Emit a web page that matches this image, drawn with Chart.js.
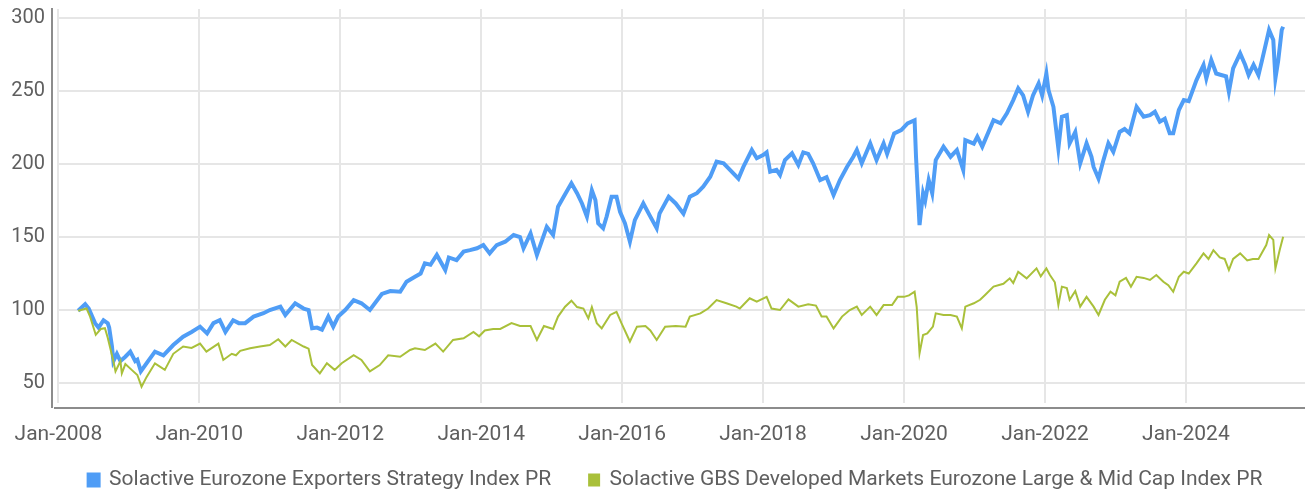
<!DOCTYPE html>
<html>
<head>
<meta charset="utf-8">
<script src="https://cdn.jsdelivr.net/npm/chart.js@4.4.1/dist/chart.umd.min.js"></script>
<style>
  html, body { margin: 0; padding: 0; background: #fff; }
  #wrap { width: 1306px; height: 493px; position: relative; }
</style>
</head>
<body>
<div id="wrap"><canvas id="perfChart"></canvas></div>
<script>
// dates as decimal years
const exportersDates = [
  2008.28, 2008.38, 2008.43, 2008.52, 2008.57, 2008.64, 2008.70, 2008.72, 2008.76, 2008.78,
  2008.83, 2008.88, 2008.95, 2009.02, 2009.09, 2009.12, 2009.17, 2009.25, 2009.37, 2009.49,
  2009.63, 2009.77, 2009.89, 2010.01, 2010.11, 2010.20, 2010.29, 2010.37, 2010.48, 2010.56,
  2010.65, 2010.77, 2010.91, 2011.00, 2011.15, 2011.22, 2011.36, 2011.48, 2011.55, 2011.60,
  2011.67, 2011.74, 2011.83, 2011.90, 2011.97, 2012.07, 2012.19, 2012.30, 2012.42, 2012.59,
  2012.71, 2012.85, 2012.94, 2013.06, 2013.14, 2013.20, 2013.28, 2013.37, 2013.49, 2013.54,
  2013.65, 2013.75, 2013.84, 2013.94, 2014.03, 2014.12, 2014.22, 2014.34, 2014.46, 2014.55,
  2014.60, 2014.70, 2014.79, 2014.93, 2015.02, 2015.09, 2015.17, 2015.28, 2015.36, 2015.43,
  2015.50, 2015.57, 2015.62, 2015.66, 2015.73, 2015.78, 2015.85, 2015.92, 2015.97, 2016.04,
  2016.11, 2016.18, 2016.30, 2016.40, 2016.49, 2016.53, 2016.66, 2016.76, 2016.87, 2016.96,
  2017.06, 2017.15, 2017.25, 2017.34, 2017.44, 2017.53, 2017.65, 2017.72, 2017.84, 2017.91,
  2018.00, 2018.05, 2018.10, 2018.19, 2018.24, 2018.31, 2018.41, 2018.50, 2018.57, 2018.64,
  2018.71, 2018.81, 2018.90, 2019.00, 2019.09, 2019.19, 2019.28, 2019.33, 2019.40, 2019.52,
  2019.61, 2019.71, 2019.76, 2019.86, 2019.96, 2020.05, 2020.15, 2020.17, 2020.22, 2020.27,
  2020.30, 2020.35, 2020.40, 2020.45, 2020.56, 2020.66, 2020.75, 2020.84, 2020.87, 2020.99,
  2021.04, 2021.11, 2021.27, 2021.37, 2021.46, 2021.55, 2021.62, 2021.69, 2021.76, 2021.83,
  2021.91, 2021.96, 2022.02, 2022.05, 2022.12, 2022.19, 2022.24, 2022.31, 2022.35, 2022.43,
  2022.50, 2022.59, 2022.66, 2022.69, 2022.76, 2022.83, 2022.90, 2022.97, 2023.06, 2023.13,
  2023.20, 2023.30, 2023.40, 2023.49, 2023.56, 2023.63, 2023.70, 2023.77, 2023.82, 2023.90,
  2023.97, 2024.04, 2024.15, 2024.25, 2024.29, 2024.36, 2024.43, 2024.50, 2024.57, 2024.61,
  2024.67, 2024.77, 2024.84, 2024.89, 2024.96, 2025.03, 2025.08, 2025.18, 2025.24, 2025.27,
  2025.31, 2025.36, 2025.38
];
const exportersValues = [
  99.5, 104, 101, 91, 88, 93, 91, 88, 75, 65,
  70, 65, 68, 71.5, 65, 66, 58, 63.5, 71.5, 69,
  76, 81.7, 85, 88.6, 84, 91, 93, 85, 93, 91,
  91, 95.5, 97.8, 100, 102.3, 96.6, 104.6, 101, 100, 87.5,
  88, 86.6, 95.5, 88.6, 95.5, 100, 106.8, 104.6, 100, 111,
  113, 112.5, 119.4, 122.8, 125, 132, 131, 137.7, 127.4, 136,
  134.2, 140, 141, 142.3, 144.5, 138.8, 144.5, 146.8, 151.4, 150,
  142.3, 152.5, 137.7, 157, 151.4, 170.8, 177.6, 186.8, 180, 173,
  164, 182, 175.4, 159.4, 156, 164, 177.6, 177.6, 167.3, 159.4,
  146.8, 161.6, 173, 164, 156, 166, 177.6, 173, 166, 177.6,
  180, 184.5, 191.3, 201.6, 200.5, 196, 190, 198, 209.6, 204,
  206.2, 208, 194.7, 196, 192.5, 202.7, 207.3, 199.3, 208, 207,
  200.5, 189, 191, 178.8, 189, 198, 205, 209.6, 200.5, 214.2,
  202.7, 214.2, 207, 221, 223.3, 227.9, 230, 205, 158.2, 180,
  175, 189, 180, 202.7, 211.9, 205, 209.6, 196, 216.4, 214,
  218.7, 211.9, 230, 227.9, 234.7, 243.8, 251.8, 247, 235.8, 247,
  255.3, 247, 262, 250.7, 239.2, 210.7, 232.4, 233.5, 214.2, 222,
  200.5, 214.2, 205, 198, 190, 202.7, 214.2, 208.4, 222, 224,
  221, 239.2, 232.4, 233.5, 235.8, 229, 231, 221, 221, 237,
  243.8, 243, 257.5, 267.8, 258.6, 271.2, 262, 261, 260, 249.5,
  265.5, 275.8, 268, 261, 268, 261, 271, 291.8, 285, 258.7,
  271, 291.8, 294
];

const gbsDates = [
  2008.28, 2008.40, 2008.45, 2008.53, 2008.60, 2008.66, 2008.70, 2008.78, 2008.81, 2008.88,
  2008.90, 2008.95, 2009.04, 2009.12, 2009.18, 2009.25, 2009.37, 2009.51, 2009.63, 2009.77,
  2009.89, 2010.01, 2010.10, 2010.27, 2010.34, 2010.46, 2010.52, 2010.58, 2010.72, 2010.86,
  2011.00, 2011.12, 2011.22, 2011.31, 2011.48, 2011.55, 2011.60, 2011.71, 2011.81, 2011.92,
  2012.02, 2012.19, 2012.30, 2012.42, 2012.56, 2012.68, 2012.85, 2012.99, 2013.06, 2013.20,
  2013.35, 2013.46, 2013.60, 2013.75, 2013.89, 2013.97, 2014.05, 2014.17, 2014.27, 2014.43,
  2014.55, 2014.70, 2014.79, 2014.89, 2015.02, 2015.09, 2015.19, 2015.28, 2015.36, 2015.45,
  2015.52, 2015.57, 2015.64, 2015.71, 2015.83, 2015.92, 2015.99, 2016.11, 2016.21, 2016.33,
  2016.40, 2016.49, 2016.61, 2016.76, 2016.90, 2016.96, 2017.11, 2017.22, 2017.34, 2017.48,
  2017.62, 2017.67, 2017.81, 2017.91, 2018.05, 2018.12, 2018.24, 2018.36, 2018.50, 2018.64,
  2018.75, 2018.83, 2018.90, 2019.00, 2019.12, 2019.23, 2019.33, 2019.40, 2019.52, 2019.61,
  2019.71, 2019.83, 2019.91, 2020.00, 2020.07, 2020.15, 2020.18, 2020.22, 2020.27, 2020.33,
  2020.41, 2020.45, 2020.56, 2020.66, 2020.75, 2020.82, 2020.87, 2020.99, 2021.08, 2021.15,
  2021.27, 2021.41, 2021.50, 2021.55, 2021.62, 2021.74, 2021.88, 2021.94, 2022.02, 2022.07,
  2022.14, 2022.19, 2022.24, 2022.31, 2022.35, 2022.43, 2022.50, 2022.59, 2022.69, 2022.76,
  2022.85, 2022.93, 2023.00, 2023.06, 2023.15, 2023.22, 2023.30, 2023.40, 2023.49, 2023.58,
  2023.68, 2023.75, 2023.82, 2023.90, 2023.97, 2024.04, 2024.15, 2024.25, 2024.32, 2024.39,
  2024.48, 2024.55, 2024.61, 2024.67, 2024.77, 2024.87, 2024.95, 2025.03, 2025.14, 2025.18,
  2025.24, 2025.27, 2025.33, 2025.38
];
const gbsValues = [
  99.5, 101, 95.4, 83, 87, 87.5, 81, 65, 58, 65,
  56.6, 63, 59, 55.5, 47.5, 54, 63.5, 59, 70, 75,
  74, 77, 71.5, 77, 65.8, 70, 69, 72, 73.8, 75,
  76, 80, 75, 79.5, 75, 73.5, 62.3, 56.6, 63.5, 59,
  63.5, 69, 65.8, 58, 62.3, 69, 68, 72.6, 73.8, 72.6,
  77, 71.5, 79.5, 80.6, 85, 82, 86, 87, 87, 91,
  89, 89, 79.5, 89, 87, 95.5, 102.3, 106.4, 102, 101,
  94.3, 102, 91, 87.4, 96.6, 98.8, 91, 78.4, 88.6, 89,
  86, 79.5, 88.6, 89, 88.6, 95.5, 97.7, 101, 106.8, 104.6,
  102.3, 101, 108, 105.7, 109, 101, 100, 107.3, 102.3, 104,
  103, 95.5, 95.5, 87.4, 95.5, 100, 102.3, 96.6, 102.3, 96.6,
  103.4, 103.4, 109, 109, 110, 112.5, 102, 70.3, 82.9, 84,
  88.6, 97.7, 96.6, 96.6, 95.5, 87.4, 102.3, 104.6, 107, 110.3,
  116, 118, 121.7, 118.5, 126.2, 121.7, 128.5, 123, 128.5, 124,
  119, 103.4, 116, 115, 107, 113, 102.3, 109, 102.3, 96.6,
  107, 112.5, 110, 119.4, 122, 116, 122.8, 122, 120.6, 124,
  119.4, 117, 112.5, 122.8, 126.2, 125, 132, 138.8, 135, 141,
  136, 135, 127.4, 135, 138.8, 134, 135, 135, 144.5, 151.4,
  148, 128.5, 141, 150.2
];

const yTickValues = [50, 100, 150, 200, 250, 300];
const xTickYears = [2008, 2010, 2012, 2014, 2016, 2018, 2020, 2022, 2024];
const seriesNames = [
  'Solactive Eurozone Exporters Strategy Index PR',
  'Solactive GBS Developed Markets Eurozone Large & Mid Cap Index PR'
];

const FONT = 'Roboto, "Noto Sans", sans-serif';
const TEXT_COLOR = '#5f5f5f';
const GRID_COLOR = '#e6e6e6';
const AXIS_COLOR = '#8c8c8c';

function toPoints(xs, ys) {
  return xs.map((x, i) => ({ x: x, y: ys[i] }));
}

// axis lines sit a few px away from the plot area
const offsetAxes = {
  id: 'offsetAxes',
  beforeDraw(chart) {
    // legend is centred a bit right of the canvas middle
    if (chart.legend) chart.legend.left = 46;
    // let the x labels spill below the (short) axis box
    chart.scales.x.bottom = chart.height;
  },
  afterDraw(chart) {
    const a = chart.chartArea;
    const ctx = chart.ctx;
    ctx.save();
    ctx.strokeStyle = AXIS_COLOR;
    ctx.lineWidth = 2;
    ctx.beginPath();
    ctx.moveTo(a.left - 5, a.top - 1);
    ctx.lineTo(a.left - 5, a.bottom + 5);
    ctx.moveTo(a.left - 3, a.bottom + 5);
    ctx.lineTo(a.right, a.bottom + 5);
    ctx.stroke();
    ctx.restore();
  }
};

new Chart(document.getElementById('perfChart'), {
  type: 'line',
  data: {
    datasets: [
      {
        label: seriesNames[0],
        data: toPoints(exportersDates, exportersValues),
        borderColor: '#4f9df6',
        backgroundColor: '#4f9df6',
        borderWidth: 4,
        pointRadius: 0,
        tension: 0,
        order: 1
      },
      {
        label: seriesNames[1],
        data: toPoints(gbsDates, gbsValues),
        borderColor: '#a9c03a',
        backgroundColor: '#a9c03a',
        borderWidth: 2,
        pointRadius: 0,
        tension: 0,
        order: 0
      }
    ]
  },
  plugins: [offsetAxes],
  options: {
    responsive: true,
    maintainAspectRatio: false,
    animation: false,
    layout: { padding: { left: 0, right: 1, top: 9, bottom: -7.5 } },
    plugins: {
      legend: {
        position: 'bottom',
        labels: {
          sort: (a, b) => a.datasetIndex - b.datasetIndex,
          boxWidth: 10,
          boxHeight: 11,
          padding: 38,
          color: TEXT_COLOR,
          font: { family: FONT, size: 21 }
        }
      },
      tooltip: { enabled: false }
    },
    scales: {
      x: {
        type: 'linear',
        min: 2007.98,
        max: 2025.69,
        afterBuildTicks: s => { s.ticks = xTickYears.map(v => ({ value: v })); },
        afterFit: s => { s.height = 28.5; s.paddingLeft = 0; s.paddingRight = 0; },
        grid: { color: GRID_COLOR, lineWidth: 2, drawTicks: false },
        border: { display: false },
        ticks: {
          color: TEXT_COLOR,
          padding: 19,
          maxRotation: 0,
          font: { family: FONT, size: 21 },
          callback: v => 'Jan-' + v
        }
      },
      y: {
        min: 36.3,
        max: 306.2,
        afterBuildTicks: s => { s.ticks = yTickValues.map(v => ({ value: v })); },
        afterFit: s => { s.width = 57; s.paddingTop = 0; s.paddingBottom = 0; },
        grid: { color: GRID_COLOR, lineWidth: 2, drawTicks: false },
        border: { display: false },
        ticks: {
          color: TEXT_COLOR,
          padding: 12,
          font: { family: FONT, size: 20 }
        }
      }
    }
  }
});
</script>
</body>
</html>
